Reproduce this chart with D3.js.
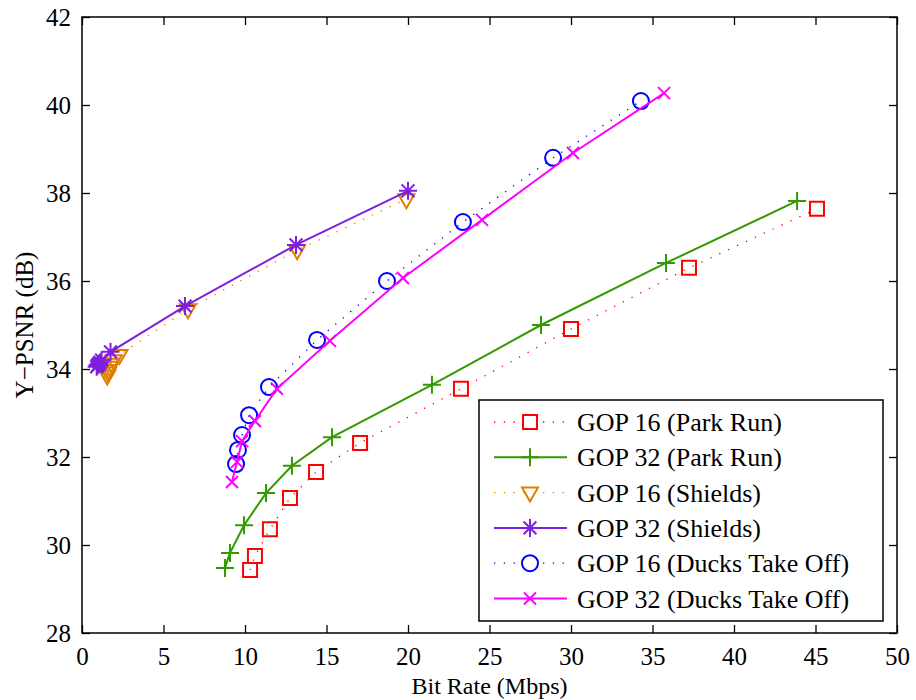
<!DOCTYPE html>
<html>
<head>
<meta charset="utf-8">
<script src="https://cdn.jsdelivr.net/npm/d3@7"></script>
<style>
  body { margin: 0; background: #fff; }
  svg text { font-family: "Liberation Serif", "DejaVu Serif", serif !important; fill: #000; }
</style>
</head>
<body>
<div id="chart"></div>
<script>
// bit rate (Mbps) / Y-PSNR (dB)
const parkRun16X = [10.31, 10.61, 11.53, 12.76, 14.36, 17.06, 23.25, 30.0, 37.24, 45.09];
const parkRun16Y = [29.43, 29.75, 30.36, 31.07, 31.66, 32.32, 33.55, 34.91, 36.30, 37.64];
const parkRun32X = [8.77, 9.08, 9.94, 11.29, 12.88, 15.34, 21.47, 28.16, 35.83, 43.87];
const parkRun32Y = [29.48, 29.82, 30.45, 31.18, 31.80, 32.45, 33.64, 35.0, 36.41, 37.82];
const shields16X = [1.55, 1.6, 1.65, 1.7, 1.8, 1.95, 2.3, 6.5, 13.2, 19.9];
const shields16Y = [33.85, 33.92, 33.98, 34.05, 34.12, 34.2, 34.32, 35.36, 36.7, 37.86];
const shields32X = [0.9, 0.95, 1.0, 1.05, 1.1, 1.2, 1.75, 6.32, 13.13, 20.0];
const shields32Y = [34.05, 34.08, 34.1, 34.12, 34.15, 34.2, 34.39, 35.43, 36.82, 38.05];
const ducks16X = [9.45, 9.57, 9.82, 10.25, 11.47, 14.42, 18.71, 23.37, 28.90, 34.29];
const ducks16Y = [31.84, 32.16, 32.5, 32.95, 33.59, 34.66, 36.0, 37.34, 38.80, 40.09];
const ducks32X = [9.20, 9.51, 9.82, 10.61, 11.96, 15.21, 19.69, 24.54, 30.12, 35.71];
const ducks32Y = [31.43, 31.89, 32.36, 32.82, 33.55, 34.64, 36.07, 37.39, 38.91, 40.27];

const xTicks = [0, 5, 10, 15, 20, 25, 30, 35, 40, 45, 50];
const yTicks = [28, 30, 32, 34, 36, 38, 40, 42];

const series = [
  { name: "GOP 16 (Park Run)", xs: parkRun16X, ys: parkRun16Y, color: "#ff0000", dotted: true, marker: "square" },
  { name: "GOP 32 (Park Run)", xs: parkRun32X, ys: parkRun32Y, color: "#339900", dotted: false, marker: "plus" },
  { name: "GOP 16 (Shields)", xs: shields16X, ys: shields16Y, color: "#df7f00", dotted: true, marker: "triangle" },
  { name: "GOP 32 (Shields)", xs: shields32X, ys: shields32Y, color: "#7f1fdf", dotted: false, marker: "star" },
  { name: "GOP 16 (Ducks Take Off)", xs: ducks16X, ys: ducks16Y, color: "#0000ff", dotted: true, marker: "circle" },
  { name: "GOP 32 (Ducks Take Off)", xs: ducks32X, ys: ducks32Y, color: "#ff00ff", dotted: false, marker: "cross" }
];

const FONT = "'Liberation Serif', 'DejaVu Serif', serif";
const width = 916, height = 700;
const margin = { left: 82, right: 19, top: 17, bottom: 67 };

const svg = d3.select("#chart").append("svg")
    .attr("width", width)
    .attr("height", height)
    .attr("font-family", FONT);

const x = d3.scaleLinear().domain([0, 50]).range([margin.left, width - margin.right]);
const y = d3.scaleLinear().domain([28, 42]).range([height - margin.bottom, margin.top]);

// marker shapes, MATLAB style
function markerPath(type) {
  switch (type) {
    case "square": return "M-7,-7H7V7H-7Z";
    case "plus": return "M-9,0H9M0,-9V9";
    case "triangle": return "M-8,-5H8L0,9Z";
    case "star": return "M-9,0H9M0,-9V9M-6.4,-6.4L6.4,6.4M-6.4,6.4L6.4,-6.4";
    case "circle": return "M8,0A8,8 0 1,1 -8,0A8,8 0 1,1 8,0Z";
    case "cross": return "M-6,-6L6,6M-6,6L6,-6";
  }
}

// axes box with inward ticks
const axisStyle = g => {
  g.attr("font-family", FONT);
  g.select(".domain").remove();
  g.selectAll("line").attr("stroke", "#000").attr("stroke-width", 1.3);
  g.selectAll("text").attr("font-size", 25).attr("font-family", FONT);
};

svg.append("g")
    .attr("transform", `translate(0,${y(28)})`)
    .call(d3.axisBottom(x).tickValues(xTicks).tickSize(-8).tickPadding(14).tickFormat(d3.format("d")))
    .call(axisStyle);
svg.append("g")
    .attr("transform", `translate(0,${y(42)})`)
    .call(d3.axisTop(x).tickValues(xTicks).tickSize(-8).tickFormat(""))
    .call(axisStyle);
svg.append("g")
    .attr("transform", `translate(${x(0)},0)`)
    .call(d3.axisLeft(y).tickValues(yTicks).tickSize(-8).tickPadding(11).tickFormat(d3.format("d")))
    .call(axisStyle);
svg.append("g")
    .attr("transform", `translate(${x(50)},0)`)
    .call(d3.axisRight(y).tickValues(yTicks).tickSize(-8).tickFormat(""))
    .call(axisStyle);

svg.append("rect")
    .attr("x", x(0)).attr("y", y(42))
    .attr("width", x(50) - x(0)).attr("height", y(28) - y(42))
    .attr("fill", "none").attr("stroke", "#000").attr("stroke-width", 1.5);

const line = d3.line().x(d => x(d[0])).y(d => y(d[1]));

series.forEach(s => {
  const pts = s.xs.map((v, i) => [v, s.ys[i]]);
  const g = svg.append("g");
  g.append("path")
      .datum(pts)
      .attr("d", line)
      .attr("fill", "none")
      .attr("stroke", s.color)
      .attr("stroke-width", s.dotted ? 1.3 : 2)
      .attr("stroke-dasharray", s.dotted ? "1.3,8.5" : null);
  g.selectAll("path.mk")
      .data(pts)
      .join("path")
      .attr("class", "mk")
      .attr("transform", d => `translate(${x(d[0])},${y(d[1])})`)
      .attr("d", markerPath(s.marker))
      .attr("fill", "none")
      .attr("stroke", s.color)
      .attr("stroke-width", 2);
});

// legend
const legend = svg.append("g").attr("transform", "translate(479,400)");
legend.append("rect")
    .attr("width", 404).attr("height", 221)
    .attr("fill", "#fff").attr("stroke", "#000").attr("stroke-width", 1.5);

series.forEach((s, i) => {
  const ly = 22 + i * 35.3;
  const row = legend.append("g").attr("transform", `translate(0,${ly})`);
  row.append("line")
      .attr("x1", 15).attr("x2", 88)
      .attr("stroke", s.color)
      .attr("stroke-width", s.dotted ? 1.3 : 2)
      .attr("stroke-dasharray", s.dotted ? "1.3,8.5" : null);
  row.append("path")
      .attr("transform", "translate(51,0)")
      .attr("d", markerPath(s.marker))
      .attr("fill", s.dotted ? "#fff" : "none")
      .attr("stroke", s.color)
      .attr("stroke-width", 2);
  row.append("text")
      .attr("x", 98).attr("dy", "0.35em")
      .attr("font-size", 26)
      .text(s.name);
});

// axis titles
svg.append("text")
    .attr("x", (x(0) + x(50)) / 2).attr("y", 694)
    .attr("text-anchor", "middle")
    .attr("font-size", 24)
    .text("Bit Rate (Mbps)");
svg.append("text")
    .attr("transform", `translate(33,${(y(28) + y(42)) / 2}) rotate(-90)`)
    .attr("text-anchor", "middle")
    .attr("font-size", 25)
    .text("Y\u2212PSNR (dB)");
</script>
</body>
</html>
